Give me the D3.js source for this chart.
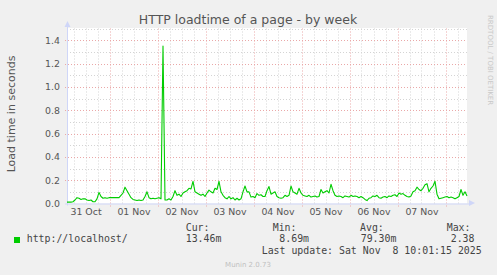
<!DOCTYPE html>
<html><head><meta charset="utf-8">
<script src="https://cdn.jsdelivr.net/npm/d3@7"></script>
<style>
html,body{margin:0;padding:0;background:#f0f0f0;}
svg{display:block;}
</style></head>
<body>
<svg id="c" width="497" height="275"></svg>
<script>
// ---- data (hourly samples, Oct 31 02:45 UTC onward) ----
const title = "HTTP loadtime of a page - by week";
const yLabel = "Load time in seconds";
const seriesName = "http://localhost/";
const startTime = Date.UTC(2025, 9, 31, 2, 45);
const stepHours = 1;
const values = [
0.012,0.012,0.012,0.015,0.03,0.05,0.045,0.035,0.04,0.04,
0.03,0.025,0.03,0.015,0.015,0.04,0.095,0.06,0.045,0.05,
0.045,0.05,0.05,0.05,0.05,0.05,0.05,0.07,0.09,0.14,
0.11,0.08,0.05,0.035,0.03,0.025,0.03,0.025,0.03,0.06,
0.1,0.05,0.04,0.045,0.04,0.045,0.05,0.04,1.35,0.03,
0.03,0.04,0.03,0.06,0.11,0.07,0.08,0.06,0.09,0.1,
0.11,0.13,0.125,0.19,0.1,0.09,0.08,0.07,0.08,0.06,
0.09,0.115,0.1,0.09,0.13,0.12,0.19,0.1,0.07,0.05,
0.04,0.06,0.04,0.05,0.03,0.045,0.03,0.04,0.1,0.15,
0.1,0.1,0.055,0.06,0.05,0.085,0.07,0.075,0.06,0.06,
0.11,0.145,0.08,0.09,0.1,0.06,0.05,0.045,0.05,0.07,
0.06,0.07,0.15,0.1,0.09,0.08,0.13,0.09,0.07,0.065,
0.06,0.07,0.055,0.06,0.065,0.055,0.06,0.12,0.09,0.1,
0.11,0.09,0.165,0.11,0.07,0.06,0.065,0.06,0.05,0.065,
0.06,0.055,0.07,0.06,0.065,0.06,0.05,0.06,0.05,0.035,
0.025,0.045,0.05,0.065,0.06,0.07,0.05,0.045,0.055,0.06,
0.05,0.065,0.06,0.07,0.075,0.06,0.09,0.08,0.085,0.07,
0.06,0.055,0.065,0.1,0.11,0.14,0.12,0.11,0.13,0.16,
0.17,0.1,0.13,0.15,0.19,0.08,0.04,0.045,0.05,0.055,
0.06,0.05,0.055,0.05,0.04,0.05,0.06,0.12,0.07,0.1,
0.065
];
const yTicks = [0.0, 0.2, 0.4, 0.6, 0.8, 1.0, 1.2, 1.4];
const xTickLabels = ["31 Oct","01 Nov","02 Nov","03 Nov","04 Nov","05 Nov","06 Nov","07 Nov"];
const legendHeads = ["Cur:","Min:","Avg:","Max:"];
const legendValues = ["13.46m","8.69m","79.30m","2.38"];
const lastUpdate = "Last update: Sat Nov  8 10:01:15 2025";
const version = "Munin 2.0.73";

// ---- layout ----
const svg = d3.select("#c");
const endTime = startTime + 200 * 3600e3;
const x = d3.scaleUtc().domain([new Date(startTime), new Date(endTime)]).range([67, 467]);
const y = d3.scaleLinear().domain([0, 1.5]).range([203.5, 28.5]);
const L = 67, R = 467, T = 28.5, B = 203.5;

svg.append("rect").attr("width",497).attr("height",275).attr("fill","#f0f0f0");
svg.append("rect").attr("x",L).attr("y",T-0.5).attr("width",R-L).attr("height",B-T+0.5).attr("fill","#fff");

const grid = svg.append("g");
const px = v => Math.round(v) + 0.5;
// minor vertical (6h)
d3.utcHour.every(6).range(new Date(startTime), new Date(endTime)).forEach(t => {
  if (t.getUTCHours() === 0) return;
  const xx = px(x(t));
  grid.append("line").attr("x1",xx).attr("x2",xx).attr("y1",T).attr("y2",B)
    .attr("stroke","#d4d4d4").attr("stroke-dasharray","1,2");
});
// minor horizontal (0.1)
d3.range(1, 16, 2).map(i => i/10).forEach(v => {
  const yy = px(y(v));
  grid.append("line").attr("x1",L).attr("x2",R).attr("y1",yy).attr("y2",yy)
    .attr("stroke","#d4d4d4").attr("stroke-dasharray","1,2");
});
// major vertical (day)
d3.utcDay.range(new Date(startTime), new Date(endTime)).forEach(t => {
  const xx = px(x(t));
  grid.append("line").attr("x1",xx).attr("x2",xx).attr("y1",T).attr("y2",B+3)
    .attr("stroke","#eaa8a8").attr("stroke-dasharray","1,2");
});
// major horizontal (0.2)
yTicks.filter(v => v > 0).forEach(v => {
  const yy = px(y(v));
  grid.append("line").attr("x1",L-2).attr("x2",R).attr("y1",yy).attr("y2",yy)
    .attr("stroke","#eaa8a8").attr("stroke-dasharray","1,2");
});

// axes lines + arrows
const axisCol = "#cfd6f8";
svg.append("line").attr("x1",L+0.5).attr("x2",L+0.5).attr("y1",B+2).attr("y2",23).attr("stroke",axisCol);
svg.append("path").attr("d",`M${L-2.5},27 L${L+3.5},27 L${L+0.5},21 Z`).attr("fill",axisCol);
svg.append("line").attr("x1",L-2).attr("x2",R+4).attr("y1",px(B)-0.5).attr("y2",px(B)-0.5).attr("stroke",axisCol);
svg.append("path").attr("d",`M${R+2},${B-3.5} L${R+2},${B+2.5} L${R+8},${B-0.5} Z`).attr("fill",axisCol);

// y axis labels
const yAxis = d3.axisLeft(y).tickValues(yTicks).tickFormat(d3.format(".1f")).tickSize(0).tickPadding(7);
const gy = svg.append("g").attr("transform",`translate(${L},0)`).call(yAxis);
gy.select(".domain").remove();
gy.selectAll("text").attr("font-family","DejaVu Sans").attr("font-size","9.4px").attr("fill","#555");

// x axis labels (at day noon)
const noons = xTickLabels.map((_, i) => new Date(Date.UTC(2025, 9, 31 + i, 12)));
const xAxis = d3.axisBottom(x).tickValues(noons).tickFormat((d, i) => xTickLabels[i]).tickSize(0).tickPadding(5);
const gx = svg.append("g").attr("transform",`translate(0,${B})`).call(xAxis);
gx.select(".domain").remove();
gx.selectAll("text").attr("font-family","DejaVu Sans").attr("font-size","9.4px").attr("fill","#555");

// series line
const line = d3.line().x((d, i) => x(new Date(startTime + i * stepHours * 3600e3))).y(d => y(d));
svg.append("path").datum(values).attr("d", line).attr("fill","none")
  .attr("stroke","#00cc00").attr("stroke-width",1.1).attr("stroke-linejoin","round");

// title
svg.append("text").attr("x",248).attr("y",24).attr("text-anchor","middle")
  .attr("font-family","DejaVu Sans").attr("font-size","12.5px").attr("fill","#555").text(title);
// y label
svg.append("text").attr("transform","translate(15,114) rotate(-90)").attr("text-anchor","middle")
  .attr("font-family","DejaVu Sans").attr("font-size","11px").attr("fill","#555").text(yLabel);
// rrdtool credit
svg.append("text").attr("transform","translate(488,15) rotate(90)").attr("text-anchor","start")
  .attr("font-family","DejaVu Sans").attr("font-size","7px").attr("fill","#c8c8c8").text("RRDTOOL / TOBI OETIKER");

// legend
const mono = {"font-family":"DejaVu Sans Mono","font-size":"9.9px","fill":"#444"};
function t(xp, yp, s, st) { const e = svg.append("text").attr("x",xp).attr("y",yp).text(s); Object.entries(st).forEach(([k,v]) => e.attr(k,v)); return e; }
svg.append("rect").attr("x",14).attr("y",237).attr("width",6).attr("height",6).attr("fill","#00cc00");
t(26.7, 242.3, seriesName, mono);
const headX = [185.7, 272.7, 360, 446.7];
const valX = [185.7, 279.3, 360.7, 450.7];
legendHeads.forEach((h, i) => t(headX[i], 230.7, h, mono));
legendValues.forEach((v, i) => t(valX[i], 242.3, v, mono));
t(261.7, 254.3, lastUpdate, mono).attr("xml:space","preserve").style("white-space","pre");
t(248, 266.5, version, {"font-family":"DejaVu Sans","font-size":"7px","fill":"#c0c0c0","text-anchor":"middle"});
</script>
</body></html>
